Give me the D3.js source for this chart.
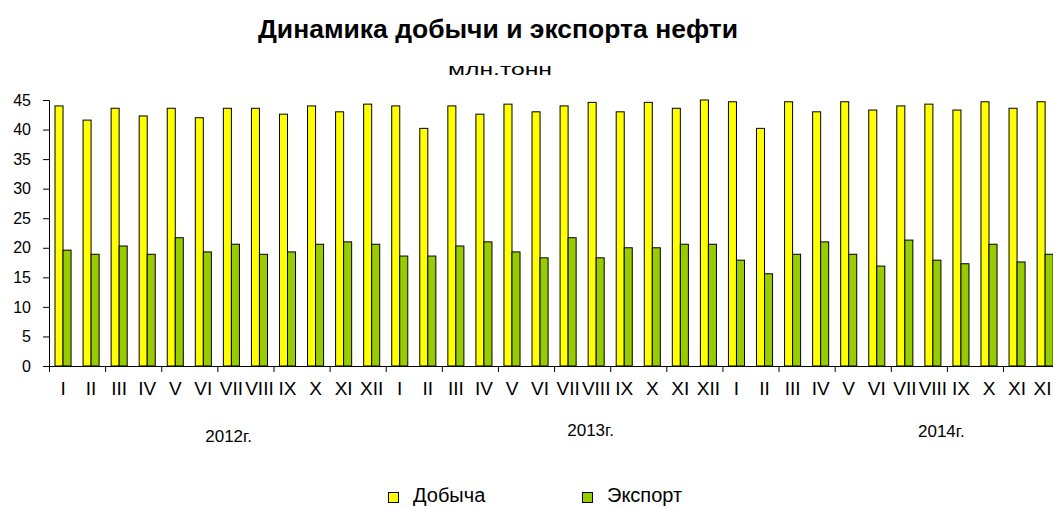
<!DOCTYPE html>
<html>
<head>
<meta charset="utf-8">
<script src="https://cdn.jsdelivr.net/npm/d3@7"></script>
<style>
  body { margin: 0; background: #fff; }
  text { font-family: "Liberation Sans", Arial, sans-serif; fill: #000; }
</style>
</head>
<body>
<script>
// data
const months = ["I","II","III","IV","V","VI","VII","VIII","IX","X","XI","XII"];
const years = ["2012г.", "2013г.", "2014г."];
const seriesNames = ["Добыча", "Экспорт"];
const production = [
  44.0, 41.6, 43.6, 42.3, 43.6, 42.0, 43.6, 43.6, 42.6, 44.0, 43.0, 44.3,
  44.0, 40.2, 44.0, 42.6, 44.3, 43.0, 44.0, 44.6, 43.0, 44.6, 43.6, 45.0,
  44.7, 40.2, 44.7, 43.0, 44.7, 43.3, 44.0, 44.3, 43.3, 44.7, 43.6, 44.7
];
const exports_ = [
  19.6, 18.9, 20.3, 18.9, 21.7, 19.3, 20.6, 18.9, 19.3, 20.6, 21.0, 20.6,
  18.6, 18.6, 20.3, 21.0, 19.3, 18.3, 21.7, 18.3, 20.0, 20.0, 20.6, 20.6,
  17.9, 15.6, 18.9, 21.0, 18.9, 16.9, 21.3, 17.9, 17.3, 20.6, 17.6, 18.9
];
const yTicks = [0, 5, 10, 15, 20, 25, 30, 35, 40, 45];

const w = 1053, h = 508;
const colors = ["#ffff00", "#99cc00"];

let rows = [];
years.forEach((y, k) => months.forEach((m, j) => {
  const i = k * 12 + j;
  rows.push({ i: i, month: m, year: y, values: [production[i], exports_[i]] });
}));

let svg = d3.select("body").append("svg")
  .attr("width", w)
  .attr("height", h);

// scales
const left = 49, bw = 28.06;
let x = d3.scaleBand()
  .domain(d3.range(rows.length))
  .range([left, left + rows.length * bw]);
let xLin = d3.scaleLinear().domain([0, rows.length]).range([left, left + rows.length * bw]);
let x1 = d3.scaleBand().domain([0, 1]).range([6, bw - 6]);
let y = d3.scaleLinear().domain([0, 45]).range([366, 100]);

// title
svg.append("text")
  .attr("x", 498).attr("y", 38)
  .attr("text-anchor", "middle")
  .attr("textLength", 480).attr("lengthAdjust", "spacingAndGlyphs")
  .style("font-size", "25px").style("font-weight", "bold")
  .text("Динамика добычи и экспорта нефти");
svg.append("text")
  .attr("x", 500).attr("y", 75)
  .attr("text-anchor", "middle")
  .attr("textLength", 104).attr("lengthAdjust", "spacingAndGlyphs")
  .style("font-size", "16px")
  .text("млн.тонн");

// bars
let groups = svg.append("g").selectAll("g")
  .data(rows)
  .enter().append("g")
  .attr("transform", d => `translate(${x(d.i)},0)`);

groups.selectAll("rect")
  .data(d => d.values)
  .enter().append("rect")
  .attr("x", (d, s) => x1(s))
  .attr("width", x1.bandwidth())
  .attr("y", d => y(d))
  .attr("height", d => y(0) - y(d))
  .attr("fill", (d, s) => colors[s])
  .attr("stroke", "#000")
  .attr("stroke-width", 1);

// y axis
let yAxis = svg.append("g")
  .attr("transform", `translate(${left},0)`)
  .call(d3.axisLeft(y).tickValues(yTicks).tickSize(6).tickPadding(12));
yAxis.selectAll("text").style("font-size", "16px").style("font-family", "Liberation Sans, Arial, sans-serif");
yAxis.selectAll("line,path").attr("stroke", "#000");

// x axis (tick marks every second month)
let xAxis = svg.append("g")
  .attr("transform", `translate(0,${y(0)})`)
  .call(d3.axisBottom(xLin)
    .tickValues(d3.range(0, rows.length + 1, 2))
    .tickSize(6).tickSizeOuter(0).tickFormat(""));
xAxis.select(".domain").attr("d", `M${left},0.5H${w}`);
xAxis.selectAll("line,path").attr("stroke", "#000");

svg.append("g").selectAll("text")
  .data(rows)
  .enter().append("text")
  .attr("x", d => x(d.i) + bw / 2)
  .attr("y", 395)
  .attr("text-anchor", "middle")
  .style("font-size", "19px")
  .text(d => d.month);

// year labels
const yearLabelAt = [6.4, 19.3, 31.8];
const yearLabelY = [442, 436, 437];
svg.append("g").selectAll("text")
  .data(years)
  .enter().append("text")
  .attr("x", (d, k) => xLin(yearLabelAt[k]))
  .attr("y", (d, k) => yearLabelY[k])
  .attr("text-anchor", "middle")
  .style("font-size", "17px")
  .text(d => d);

// legend
const legendX = [388, 582];
let legend = svg.append("g").selectAll("g")
  .data(seriesNames)
  .enter().append("g")
  .attr("transform", (d, s) => `translate(${legendX[s]},492)`);
legend.append("rect")
  .attr("x", 0.5).attr("y", 0.5)
  .attr("width", 10).attr("height", 10)
  .attr("fill", (d, s) => colors[s])
  .attr("stroke", "#000");
legend.append("text")
  .attr("x", 25).attr("y", 10)
  .style("font-size", "20px")
  .text(d => d);
</script>
</body>
</html>
